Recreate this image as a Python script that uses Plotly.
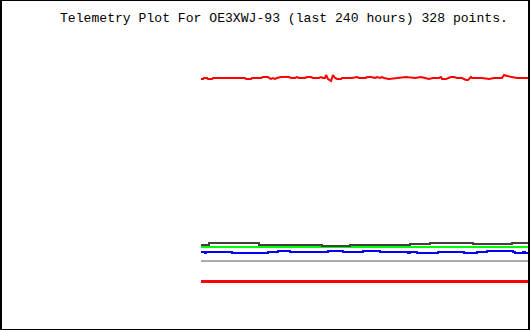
import plotly.graph_objects as go

# Sample index (0..327) of the 328 telemetry points, values in raw telemetry units
title_text = "Telemetry Plot For OE3XWJ-93 (last 240 hours) 328 points."

# Channel 1 (red, top) – noisy
ch1_idx = [0, 2, 3, 6, 7, 11, 12, 23, 44, 45, 50, 51, 60, 62, 67, 68, 70, 72, 74, 76,
           80, 88, 90, 94, 96, 98, 104, 106, 110, 112, 118, 120, 122, 124, 125, 127, 129,
           130, 132, 134, 136, 140, 141, 151, 156, 158, 165, 166, 170, 174, 176, 179, 181,
           183, 188, 198, 205, 214, 220, 224, 228, 232, 238, 240, 241, 245, 250, 253, 256,
           261, 265, 267, 270, 271, 281, 288, 293, 301, 303, 306, 311, 316, 320, 327]
ch1_val = [251, 251, 252, 252, 251, 251, 252, 252, 252, 251, 251, 252, 252, 253, 253, 252, 251, 252, 251, 252,
           253, 253, 252, 252, 253, 252, 252, 253, 253, 252, 252, 253, 252, 252, 255, 251, 249,
           249, 255, 252, 251, 251, 252, 252, 253, 252, 252, 253, 253, 252, 253, 252, 253,
           252, 251, 252, 253, 252, 253, 252, 251, 252, 252, 253, 251, 251, 253, 253, 252,
           252, 250, 250, 253, 252, 252, 251, 252, 252, 255, 254, 253, 252, 252, 252]

# Channel 2 (dark grey) – stepped
ch2_idx = [0, 8, 58, 121, 149, 209, 229, 272, 311, 327]
ch2_val = [85, 87, 85, 84, 85, 86, 87, 86, 87, 87]

# Channel 3 (green) – constant
ch3_idx = [0, 327]
ch3_val = [83, 83]

# Channel 4 (blue) – stepped
ch4_idx = [0, 4, 5, 31, 67, 77, 89, 127, 142, 162, 179, 207, 209, 216, 237, 263, 276,
           286, 312, 314, 322, 324, 327]
ch4_val = [78, 77, 78, 77, 78, 79, 78, 79, 78, 79, 78, 77, 78, 77, 78, 77, 78,
           79, 78, 77, 78, 77, 77]

# Channel 5 (light grey) – constant
ch5_idx = [0, 327]
ch5_val = [69, 69]

# Channel 6 (red, bottom) – constant
ch6_idx = [0, 327]
ch6_val = [48.5, 48.5]

series = [
    (ch1_idx, ch1_val, "#ff0000", 2, "linear"),
    (ch3_idx, ch3_val, "#00ff00", 2, "hv"),
    (ch2_idx, ch2_val, "#404040", 2, "hv"),
    (ch4_idx, ch4_val, "#0000ff", 2, "hv"),
    (ch5_idx, ch5_val, "#aaaaaa", 2, "hv"),
    (ch6_idx, ch6_val, "#ff0000", 3, "hv"),
]

fig = go.Figure()
for xs, ys, col, w, shape in series:
    fig.add_trace(go.Scatter(x=xs, y=ys, mode="lines",
                             line=dict(color=col, width=w, shape=shape),
                             hoverinfo="skip", showlegend=False))

W, H = 530, 330
fig.update_layout(
    width=W, height=H,
    margin=dict(l=0, r=0, t=0, b=0, pad=0),
    paper_bgcolor="white", plot_bgcolor="white",
    xaxis=dict(range=[-201, 329], visible=False, fixedrange=True),
    yaxis=dict(range=[0, 330], visible=False, fixedrange=True),
    showlegend=False,
)

# frame
for x0, x1, y0, y1 in [(0, 2, 0, H), (W - 2, W, 0, H), (0, W, H - 1, H), (0, W, 0, 1)]:
    fig.add_shape(type="rect", xref="paper", yref="paper",
                  x0=x0 / W, x1=x1 / W, y0=1 - y1 / H, y1=1 - y0 / H,
                  line=dict(width=0), fillcolor="black", layer="above")

fig.add_annotation(text=title_text, xref="paper", yref="paper",
                   x=58 / W, y=1 - 9 / H, xanchor="left", yanchor="top",
                   showarrow=False,
                   font=dict(family="Liberation Mono", size=13.1, color="black"))

fig.write_html("out.html", config={"displayModeBar": False, "staticPlot": True})
